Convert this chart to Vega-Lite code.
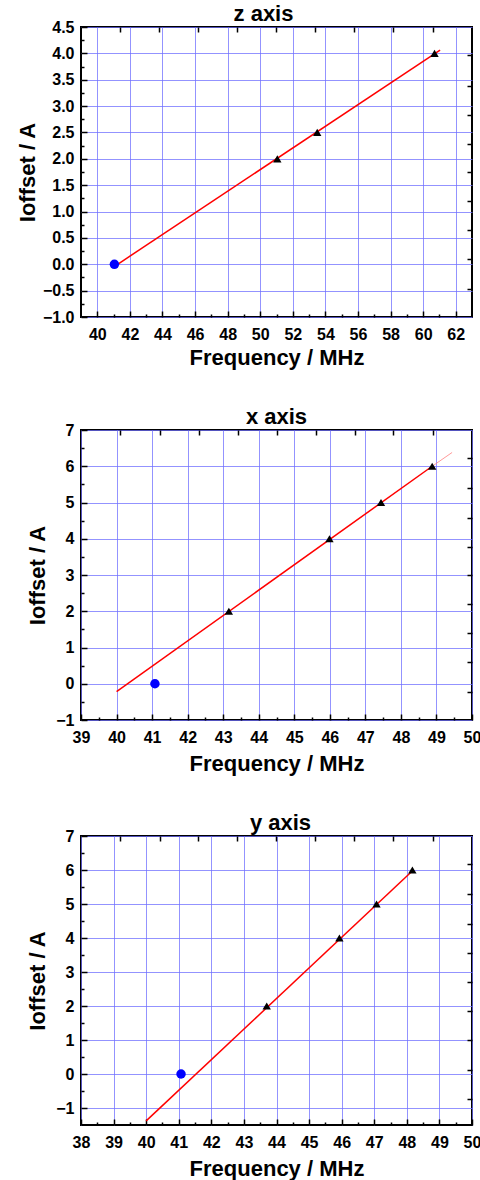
{
  "$schema": "https://vega.github.io/schema/vega-lite/v6.json",
  "background": "white",
  "padding": {"left": 15, "top": 2, "right": 5, "bottom": 2},
  "spacing": 36,
  "config": {
    "view": {"stroke": "black", "strokeWidth": 2},
    "axis": {
      "labelFont": "Liberation Sans", "labelFontWeight": "bold", "labelFontSize": 16, "labelColor": "black",
      "titleFont": "Liberation Sans", "titleFontWeight": "bold", "titleFontSize": 22, "titleColor": "black",
      "tickColor": "black", "tickWidth": 1.5, "domain": false,
      "gridColor": "#6f6fff", "gridOpacity": 0.75, "gridWidth": 1,
      "labelFlush": false, "labelOverlap": false, "labelBound": false
    },
    "title": {"font": "Liberation Sans", "fontSize": 22, "fontWeight": "bold", "color": "black", "offset": -7}
  },
  "vconcat": [
    {
      "title": {"text": "z axis", "frame": "group", "dx": -13},
      "width": 391, "height": 290,
      "resolve": {"axis": {"x": "independent", "y": "independent"}},
      "layer": [
        {
          "data": {"values": [{"f": 41.25, "i": 0.0}, {"f": 61.04, "i": 4.06}]},
          "mark": {"type": "line", "color": "#ff0000", "strokeWidth": 1.5},
          "encoding": {
            "x": {"field": "f", "type": "quantitative", "scale": {"domain": [39, 63], "nice": false, "zero": false},
              "axis": {"orient": "bottom", "values": [40,42,44,46,48,50,52,54,56,58,60,62], "grid": true, "tickSize": -6, "labelPadding": 15, "title": "Frequency / MHz", "titlePadding": 5}},
            "y": {"field": "i", "type": "quantitative", "scale": {"domain": [-1, 4.5], "nice": false, "zero": false},
              "axis": {"orient": "left", "values": [-1,-0.5,0,0.5,1,1.5,2,2.5,3,3.5,4,4.5], "format": ".1f", "grid": true, "tickSize": -6, "labelPadding": 13, "title": "Ioffset / A", "titlePadding": 3}}
          }
        },
        {
          "data": {"values": [{"f": 51.05, "i": 2.0}, {"f": 53.5, "i": 2.5}, {"f": 60.7, "i": 4.0}]},
          "mark": {"type": "point", "shape": "triangle-up", "filled": true, "color": "black", "opacity": 1, "size": 70},
          "encoding": {
            "x": {"field": "f", "type": "quantitative", "scale": {"domain": [39, 63], "nice": false, "zero": false},
              "axis": {"orient": "bottom", "values": [41,43,45,47,49,51,53,55,57,59,61], "grid": false, "labels": false, "tickSize": -3, "title": null}},
            "y": {"field": "i", "type": "quantitative", "scale": {"domain": [-1, 4.5], "nice": false, "zero": false},
              "axis": {"orient": "left", "values": [-0.75,-0.25,0.25,0.75,1.25,1.75,2.25,2.75,3.25,3.75,4.25], "grid": false, "labels": false, "tickSize": -3, "title": null}}
          }
        },
        {
          "data": {"values": [{"f": 41.05, "i": 0.0}]},
          "mark": {"type": "circle", "color": "#0000ff", "opacity": 1, "size": 90},
          "encoding": {
            "x": {"field": "f", "type": "quantitative", "scale": {"domain": [39, 63], "nice": false, "zero": false},
              "axis": {"orient": "top", "values": [41.39,43.81,46.2,48.6,50.99,53.38,55.78,58.17,60.6], "grid": false, "labels": false, "tickSize": -5, "title": null}},
            "y": {"field": "i", "type": "quantitative", "scale": {"domain": [-1, 4.5], "nice": false, "zero": false},
              "axis": {"orient": "right", "values": [3.963,3.375,2.836,2.286,1.749,1.193,0.642,0.092,-0.466], "grid": false, "labels": false, "tickSize": -5, "title": null}}
          }
        }
      ]
    },
    {
      "title": {"text": "x axis", "frame": "group"},
      "width": 391, "height": 290,
      "resolve": {"axis": {"x": "independent", "y": "independent"}},
      "layer": [
        {
          "data": {"values": [{"f": 40.0, "i": -0.22}, {"f": 48.88, "i": 6.0}]},
          "mark": {"type": "line", "color": "#ff0000", "strokeWidth": 1.5},
          "encoding": {
            "x": {"field": "f", "type": "quantitative", "scale": {"domain": [39, 50], "nice": false, "zero": false},
              "axis": {"orient": "bottom", "values": [39,40,41,42,43,44,45,46,47,48,49,50], "grid": true, "tickSize": -6, "labelPadding": 15, "title": "Frequency / MHz", "titlePadding": 8}},
            "y": {"field": "i", "type": "quantitative", "scale": {"domain": [-1, 7], "nice": false, "zero": false},
              "axis": {"orient": "left", "values": [-1,0,1,2,3,4,5,6,7], "grid": true, "tickSize": -6, "labelPadding": 13, "title": "Ioffset / A", "titlePadding": 6}}
          }
        },
        {
          "data": {"values": [{"f": 48.88, "i": 6.0}, {"f": 49.44, "i": 6.38}]},
          "mark": {"type": "line", "color": "#ff8080", "strokeWidth": 1, "opacity": 0.8},
          "encoding": {
            "x": {"field": "f", "type": "quantitative", "scale": {"domain": [39, 50], "nice": false, "zero": false}, "axis": null},
            "y": {"field": "i", "type": "quantitative", "scale": {"domain": [-1, 7], "nice": false, "zero": false}, "axis": null}
          }
        },
        {
          "data": {"values": [{"f": 43.16, "i": 2.0}, {"f": 45.99, "i": 4.0}, {"f": 47.44, "i": 5.0}, {"f": 48.88, "i": 6.0}]},
          "mark": {"type": "point", "shape": "triangle-up", "filled": true, "color": "black", "opacity": 1, "size": 70},
          "encoding": {
            "x": {"field": "f", "type": "quantitative", "scale": {"domain": [39, 50], "nice": false, "zero": false},
              "axis": {"orient": "bottom", "values": [39.5,40.5,41.5,42.5,43.5,44.5,45.5,46.5,47.5,48.5,49.5], "grid": false, "labels": false, "tickSize": -3, "title": null}},
            "y": {"field": "i", "type": "quantitative", "scale": {"domain": [-1, 7], "nice": false, "zero": false},
              "axis": {"orient": "left", "values": [-0.5,0.5,1.5,2.5,3.5,4.5,5.5,6.5], "grid": false, "labels": false, "tickSize": -3, "title": null}}
          }
        },
        {
          "data": {"values": [{"f": 41.08, "i": 0.0}]},
          "mark": {"type": "circle", "color": "#0000ff", "opacity": 1, "size": 90},
          "encoding": {
            "x": {"field": "f", "type": "quantitative", "scale": {"domain": [39, 50], "nice": false, "zero": false},
              "axis": {"orient": "top", "values": [40.10,41.21,42.31,43.41,44.50,45.60,46.70,47.79,48.89], "grid": false, "labels": false, "tickSize": -5, "title": null}},
            "y": {"field": "i", "type": "quantitative", "scale": {"domain": [-1, 7], "nice": false, "zero": false},
              "axis": {"orient": "right", "values": [6.22,5.39,4.58,3.78,3.0,2.19,1.39,0.59,-0.22], "grid": false, "labels": false, "tickSize": -5, "title": null}}
          }
        }
      ]
    },
    {
      "title": {"text": "y axis", "frame": "group", "dx": 4},
      "width": 391, "height": 289,
      "resolve": {"axis": {"x": "independent", "y": "independent"}},
      "layer": [
        {
          "data": {"values": [{"f": 40.0, "i": -1.38}, {"f": 48.2, "i": 6.0}]},
          "mark": {"type": "line", "color": "#ff0000", "strokeWidth": 1.5},
          "encoding": {
            "x": {"field": "f", "type": "quantitative", "scale": {"domain": [38, 50], "nice": false, "zero": false},
              "axis": {"orient": "bottom", "values": [38,39,40,41,42,43,44,45,46,47,48,49,50], "grid": true, "tickSize": -6, "labelPadding": 15, "title": "Frequency / MHz", "titlePadding": 8}},
            "y": {"field": "i", "type": "quantitative", "scale": {"domain": [-1.5, 7], "nice": false, "zero": false},
              "axis": {"orient": "left", "values": [-1,0,1,2,3,4,5,6,7], "grid": true, "tickSize": -6, "labelPadding": 13, "title": "Ioffset / A", "titlePadding": 6}}
          }
        },
        {
          "data": {"values": [{"f": 43.7, "i": 2.0}, {"f": 45.93, "i": 4.0}, {"f": 47.07, "i": 5.0}, {"f": 48.17, "i": 6.0}]},
          "mark": {"type": "point", "shape": "triangle-up", "filled": true, "color": "black", "opacity": 1, "size": 70},
          "encoding": {
            "x": {"field": "f", "type": "quantitative", "scale": {"domain": [38, 50], "nice": false, "zero": false},
              "axis": {"orient": "bottom", "values": [38.5,39.5,40.5,41.5,42.5,43.5,44.5,45.5,46.5,47.5,48.5,49.5], "grid": false, "labels": false, "tickSize": -3, "title": null}},
            "y": {"field": "i", "type": "quantitative", "scale": {"domain": [-1.5, 7], "nice": false, "zero": false},
              "axis": {"orient": "left", "values": [-0.5,0.5,1.5,2.5,3.5,4.5,5.5,6.5], "grid": false, "labels": false, "tickSize": -3, "title": null}}
          }
        },
        {
          "data": {"values": [{"f": 41.07, "i": 0.0}]},
          "mark": {"type": "circle", "color": "#0000ff", "opacity": 1, "size": 90},
          "encoding": {
            "x": {"field": "f", "type": "quantitative", "scale": {"domain": [38, 50], "nice": false, "zero": false},
              "axis": {"orient": "top", "values": [39.20,40.41,41.60,42.80,43.99,45.19,46.39,47.58,48.80], "grid": false, "labels": false, "tickSize": -5, "title": null}},
            "y": {"field": "i", "type": "quantitative", "scale": {"domain": [-1.5, 7], "nice": false, "zero": false},
              "axis": {"orient": "right", "values": [6.17,5.29,4.42,3.57,2.71,1.85,0.99,0.13,-0.73], "grid": false, "labels": false, "tickSize": -5, "title": null}}
          }
        }
      ]
    }
  ]
}
